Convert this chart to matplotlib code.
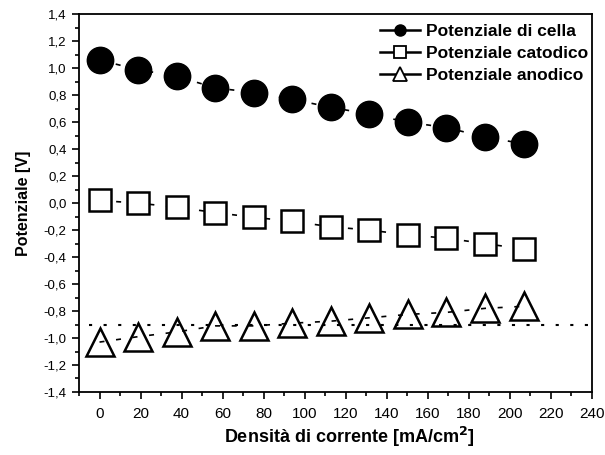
import numpy as np
import matplotlib.pyplot as plt
from matplotlib.lines import Line2D
from matplotlib.ticker import MultipleLocator, FuncFormatter
from matplotlib.font_manager import FontProperties

plt.rcParams['font.family'] = ['Liberation Sans', 'DejaVu Sans']

# current density [mA/cm2]
densita = [0, 18.8, 37.6, 56.4, 75.2, 94.0, 112.8, 131.6, 150.4, 169.2, 188.0, 206.8]
# potentials [V]
pot_cella = [1.06, 0.99, 0.94, 0.855, 0.82, 0.77, 0.71, 0.66, 0.60, 0.56, 0.49, 0.44]
pot_catodico = [0.02, 0.0, -0.03, -0.07, -0.105, -0.135, -0.175, -0.20, -0.235, -0.26, -0.30, -0.34]
pot_anodico = [-1.03, -0.99, -0.955, -0.91, -0.91, -0.89, -0.875, -0.85, -0.825, -0.81, -0.78, -0.765]
soglia = -0.9

fig = plt.figure(figsize=(6.05, 4.55), dpi=100)
ax = fig.add_axes([0.1306, 0.1385, 0.8474, 0.8301])

dash = dict(color='black', linestyle='--', dashes=(3, 7), linewidth=1.2)
ax.plot(densita, pot_cella, marker='o', markersize=19, markerfacecolor='black',
        markeredgecolor='black', **dash)
ax.plot(densita, pot_catodico, marker='s', markersize=16, markerfacecolor='white',
        markeredgecolor='black', markeredgewidth=1.8, **dash)
ax.plot(densita, pot_anodico, marker='^', markersize=20, markerfacecolor='none',
        markeredgecolor='black', markeredgewidth=1.8, **dash)

# reference level
ax.plot([-5, 240], [soglia, soglia], color='black', linestyle=':', dashes=(1.5, 5.5),
        linewidth=1.5, zorder=0)

ax.set_xlim(-10, 240)
ax.set_ylim(-1.4, 1.4)
ax.xaxis.set_major_locator(MultipleLocator(20))
ax.xaxis.set_minor_locator(MultipleLocator(10))
ax.yaxis.set_major_locator(MultipleLocator(0.2))
ax.yaxis.set_minor_locator(MultipleLocator(0.1))
ax.yaxis.set_major_formatter(FuncFormatter(lambda v, p: f"{v:.1f}".replace('.', ',').replace('-0,0', '0,0')))
ax.tick_params(which='major', length=5, width=1.2, direction='out')
ax.tick_params(which='minor', length=3, width=1.2, direction='out')
ax.tick_params(axis='x', which='both', top=False, pad=6, labelsize=11)
ax.tick_params(axis='y', which='both', right=False, pad=4, labelsize=9.5)
for s in ax.spines.values():
    s.set_linewidth(1.3)

ax.set_xlabel('Densità di corrente [mA/cm$^\\mathbf{2}$]', fontsize=13, fontweight='bold')
ax.xaxis.set_label_coords(0.528, -0.088)
ax.set_ylabel('Potenziale [V]', fontsize=11.5, fontweight='bold', labelpad=9)

handles = [
    Line2D([], [], color='black', linewidth=1.8, marker='o', markersize=8,
           markerfacecolor='black'),
    Line2D([], [], color='black', linewidth=1.8, marker='s', markersize=8,
           markerfacecolor='white', markeredgewidth=1.3),
    Line2D([], [], color='black', linewidth=1.8, marker='^', markersize=10,
           markerfacecolor='white', markeredgewidth=1.3),
]
leg_font = FontProperties(family='Liberation Sans', weight='bold', size=12.5)
ax.legend(handles, ['Potenziale di cella', 'Potenziale catodico', 'Potenziale anodico'],
          loc='upper right', frameon=False, prop=leg_font,
          handlelength=2.3, handletextpad=0.35, labelspacing=0.4,
          borderaxespad=0, borderpad=0.2, bbox_to_anchor=(1.0, 0.985))

fig.savefig('out.png', dpi=100)
